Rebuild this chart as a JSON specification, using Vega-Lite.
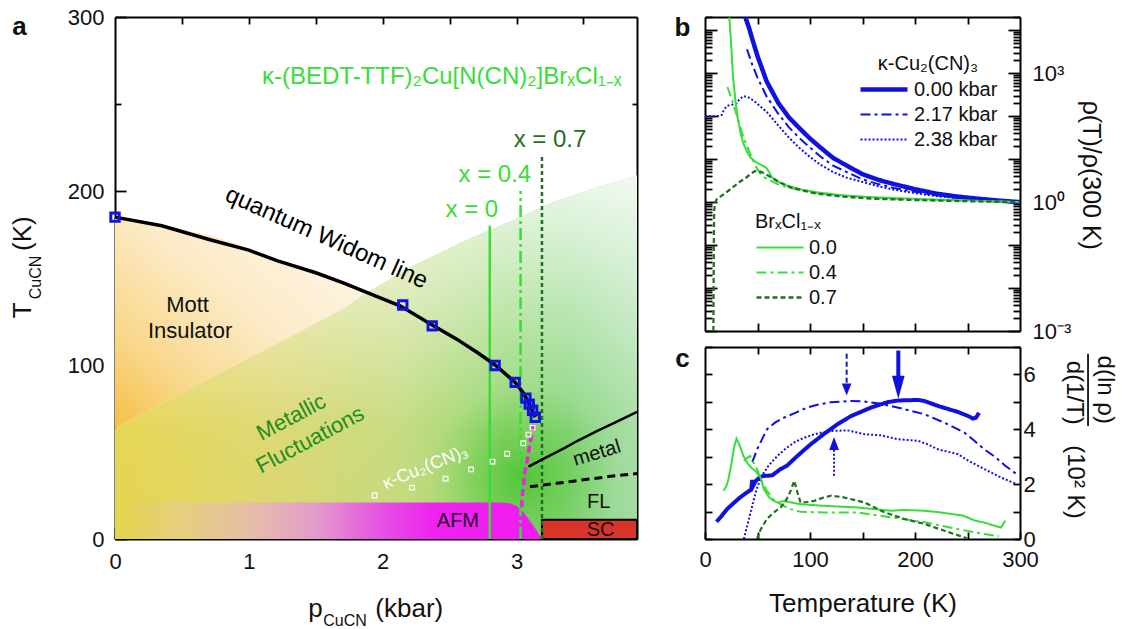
{
 "$schema": "https://vega.github.io/schema/vega-lite/v6.json",
 "padding": {"left": 10, "top": 6, "right": 6, "bottom": 0},
 "bounds": "flush",
 "spacing": 68,
 "background": "white",
 "config": {
  "font": "Liberation Sans",
  "view": {"stroke": null},
  "axis": {"zindex": 1, "domainColor": "#000", "domainWidth": 2, "tickColor": "#000", "tickWidth": 1.8, "labelFontSize": 22, "labelColor": "#111", "labelFont": "Liberation Sans", "labelFlush": false, "labelOverlap": false, "grid": false, "titleFont": "Liberation Sans", "titleFontWeight": "normal", "titleColor": "#111", "titleFontSize": 26},
  "legend": {"labelFont": "Liberation Sans", "titleFont": "Liberation Sans", "labelFontSize": 20, "titleFontSize": 20, "titleFontWeight": "normal", "labelColor": "#111", "titleColor": "#111", "padding": 0, "symbolType": "stroke", "symbolSize": 2209, "clipHeight": 25, "rowPadding": 0, "titlePadding": 3, "labelOffset": 4}
 },
 "datasets": {
  "L": [{"p":0,"T":64},{"p":0.5,"T":84},{"p":1,"T":104},{"p":1.5,"T":124},{"p":1.8,"T":138},{"p":2.2,"T":156},{"p":2.6,"T":171},{"p":3.0,"T":184},{"p":3.25,"T":193},{"p":3.6,"T":202},{"p":3.9,"T":209}],
  "orange": [{"p":0,"T":64,"T2":185},{"p":0.25,"T":74,"T2":182},{"p":0.5,"T":84,"T2":178},{"p":0.75,"T":94,"T2":174},{"p":1.0,"T":104,"T2":167},{"p":1.25,"T":114,"T2":159},{"p":1.5,"T":124,"T2":153},{"p":1.7,"T":132,"T2":147.5},{"p":1.88,"T":141.5,"T2":141.5}],
  "afm": [{"p":0,"T":21},{"p":2.88,"T":21},{"p":2.95,"T":20.5},{"p":3.0,"T":19},{"p":3.05,"T":15.5},{"p":3.1,"T":10.5},{"p":3.15,"T":5},{"p":3.19,"T":0}],
  "widom": [{"p":0,"T":185},{"p":0.35,"T":180},{"p":0.71,"T":172},{"p":1.0,"T":166},{"p":1.21,"T":160},{"p":1.5,"T":153},{"p":1.71,"T":147},{"p":2.0,"T":138},{"p":2.13,"T":134},{"p":2.37,"T":123},{"p":2.55,"T":115},{"p":2.71,"T":107},{"p":2.84,"T":100},{"p":2.99,"T":90},{"p":3.05,"T":84},{"p":3.08,"T":80},{"p":3.11,"T":75},{"p":3.14,"T":70}],
  "wpts": [{"p":0,"T":185},{"p":2.15,"T":134.5},{"p":2.37,"T":122.5},{"p":2.84,"T":99.7},{"p":2.99,"T":90},{"p":3.07,"T":81},{"p":3.095,"T":77.5},{"p":3.12,"T":74},{"p":3.14,"T":70}],
  "wsq": [{"p":1.94,"T":25},{"p":2.22,"T":29.5},{"p":2.47,"T":34.7},{"p":2.66,"T":40},{"p":2.82,"T":44.5},{"p":2.93,"T":49},{"p":3.05,"T":55},{"p":3.09,"T":60},{"p":3.12,"T":64}],
  "pink": [{"p":3.13,"T":66},{"p":3.10,"T":55},{"p":3.08,"T":45},{"p":3.06,"T":37.5},{"p":3.05,"T":29.5},{"p":3.04,"T":22},{"p":3.04,"T":18}],
  "metal": [{"p":3.09,"T":41.6},{"p":3.2,"T":46},{"p":3.35,"T":52},{"p":3.46,"T":56.6},{"p":3.6,"T":62},{"p":3.75,"T":67.5},{"p":3.9,"T":73}],
  "fl": [{"p":3.1,"T":30},{"p":3.3,"T":32},{"p":3.5,"T":34},{"p":3.7,"T":36},{"p":3.9,"T":37.6}],
  "bk": [
   {"T":38.5,"rho":20000,"s":"0.00 kbar"},{"T":42,"rho":11220,"s":"0.00 kbar"},{"T":45,"rho":6310,"s":"0.00 kbar"},{"T":50,"rho":2512,"s":"0.00 kbar"},{"T":58.7,"rho":646,"s":"0.00 kbar"},{"T":70,"rho":200,"s":"0.00 kbar"},{"T":80,"rho":93.3,"s":"0.00 kbar"},{"T":90,"rho":52.5,"s":"0.00 kbar"},{"T":100,"rho":30.2,"s":"0.00 kbar"},{"T":110,"rho":18.6,"s":"0.00 kbar"},{"T":122,"rho":10.7,"s":"0.00 kbar"},{"T":135,"rho":7.08,"s":"0.00 kbar"},{"T":150,"rho":4.47,"s":"0.00 kbar"},{"T":165,"rho":3.31,"s":"0.00 kbar"},{"T":180,"rho":2.63,"s":"0.00 kbar"},{"T":200,"rho":2.0,"s":"0.00 kbar"},{"T":220,"rho":1.58,"s":"0.00 kbar"},{"T":240,"rho":1.35,"s":"0.00 kbar"},{"T":260,"rho":1.2,"s":"0.00 kbar"},{"T":280,"rho":1.084,"s":"0.00 kbar"},{"T":300,"rho":1,"s":"0.00 kbar"},
   {"T":40,"rho":3631,"s":"2.17 kbar"},{"T":45,"rho":1585,"s":"2.17 kbar"},{"T":50,"rho":794,"s":"2.17 kbar"},{"T":58.7,"rho":288,"s":"2.17 kbar"},{"T":70,"rho":112,"s":"2.17 kbar"},{"T":80,"rho":55,"s":"2.17 kbar"},{"T":90,"rho":30.9,"s":"2.17 kbar"},{"T":100,"rho":18.6,"s":"2.17 kbar"},{"T":110,"rho":11.5,"s":"2.17 kbar"},{"T":122,"rho":7.08,"s":"2.17 kbar"},{"T":135,"rho":5.01,"s":"2.17 kbar"},{"T":150,"rho":3.39,"s":"2.17 kbar"},{"T":165,"rho":2.63,"s":"2.17 kbar"},{"T":180,"rho":2.14,"s":"2.17 kbar"},{"T":200,"rho":1.74,"s":"2.17 kbar"},{"T":220,"rho":1.45,"s":"2.17 kbar"},{"T":240,"rho":1.26,"s":"2.17 kbar"},{"T":260,"rho":1.15,"s":"2.17 kbar"},{"T":280,"rho":1.07,"s":"2.17 kbar"},{"T":300,"rho":1,"s":"2.17 kbar"},
   {"T":0,"rho":100,"s":"2.38 kbar"},{"T":12,"rho":100,"s":"2.38 kbar"},{"T":16,"rho":107,"s":"2.38 kbar"},{"T":18,"rho":141,"s":"2.38 kbar"},{"T":21,"rho":174,"s":"2.38 kbar"},{"T":26,"rho":186,"s":"2.38 kbar"},{"T":30,"rho":200,"s":"2.38 kbar"},{"T":33,"rho":251,"s":"2.38 kbar"},{"T":37,"rho":295,"s":"2.38 kbar"},{"T":42,"rho":269,"s":"2.38 kbar"},{"T":47,"rho":224,"s":"2.38 kbar"},{"T":53,"rho":166,"s":"2.38 kbar"},{"T":58.7,"rho":126,"s":"2.38 kbar"},{"T":70,"rho":60.3,"s":"2.38 kbar"},{"T":80,"rho":31.6,"s":"2.38 kbar"},{"T":90,"rho":18.2,"s":"2.38 kbar"},{"T":100,"rho":11.2,"s":"2.38 kbar"},{"T":110,"rho":7.41,"s":"2.38 kbar"},{"T":122,"rho":5.01,"s":"2.38 kbar"},{"T":135,"rho":3.72,"s":"2.38 kbar"},{"T":150,"rho":2.95,"s":"2.38 kbar"},{"T":165,"rho":2.34,"s":"2.38 kbar"},{"T":180,"rho":1.95,"s":"2.38 kbar"},{"T":200,"rho":1.62,"s":"2.38 kbar"},{"T":220,"rho":1.38,"s":"2.38 kbar"},{"T":240,"rho":1.23,"s":"2.38 kbar"},{"T":260,"rho":1.12,"s":"2.38 kbar"},{"T":280,"rho":1.05,"s":"2.38 kbar"},{"T":300,"rho":1,"s":"2.38 kbar"}
  ],
  "bbr": [
   {"T":23.2,"rho":20000,"s":"0.0"},{"T":25,"rho":4266,"s":"0.0"},{"T":26.7,"rho":832,"s":"0.0"},{"T":29,"rho":224,"s":"0.0"},{"T":31.5,"rho":81.3,"s":"0.0"},{"T":34,"rho":39.8,"s":"0.0"},{"T":36.5,"rho":23.4,"s":"0.0"},{"T":40,"rho":14.8,"s":"0.0"},{"T":43,"rho":11.2,"s":"0.0"},{"T":47,"rho":9.12,"s":"0.0"},{"T":50.7,"rho":7.94,"s":"0.0"},{"T":55,"rho":7.08,"s":"0.0"},{"T":58.7,"rho":6.17,"s":"0.0"},{"T":61,"rho":5.01,"s":"0.0"},{"T":63.5,"rho":3.8,"s":"0.0"},{"T":70,"rho":2.95,"s":"0.0"},{"T":77.7,"rho":2.45,"s":"0.0"},{"T":90,"rho":2.0,"s":"0.0"},{"T":106,"rho":1.7,"s":"0.0"},{"T":130,"rho":1.45,"s":"0.0"},{"T":154,"rho":1.32,"s":"0.0"},{"T":186,"rho":1.23,"s":"0.0"},{"T":220,"rho":1.15,"s":"0.0"},{"T":260,"rho":1.07,"s":"0.0"},{"T":300,"rho":1,"s":"0.0"},
   {"T":21.3,"rho":479,"s":"0.4"},{"T":24,"rho":316,"s":"0.4"},{"T":26.7,"rho":200,"s":"0.4"},{"T":30,"rho":112,"s":"0.4"},{"T":33,"rho":63.1,"s":"0.4"},{"T":36.5,"rho":33.1,"s":"0.4"},{"T":40,"rho":20,"s":"0.4"},{"T":44.4,"rho":11.2,"s":"0.4"},{"T":48,"rho":7.08,"s":"0.4"},{"T":52.4,"rho":4.68,"s":"0.4"},{"T":57,"rho":3.72,"s":"0.4"},{"T":61.9,"rho":3.24,"s":"0.4"},{"T":71.4,"rho":2.45,"s":"0.4"},{"T":90.5,"rho":1.86,"s":"0.4"},{"T":110,"rho":1.58,"s":"0.4"},{"T":140,"rho":1.35,"s":"0.4"},{"T":180,"rho":1.2,"s":"0.4"},{"T":220,"rho":1.12,"s":"0.4"},{"T":260,"rho":1.06,"s":"0.4"},{"T":300,"rho":1,"s":"0.4"},
   {"T":8,"rho":0.001,"s":"0.7"},{"T":8.2,"rho":0.01,"s":"0.7"},{"T":8.4,"rho":0.1,"s":"0.7"},{"T":8.7,"rho":0.6,"s":"0.7"},{"T":9.5,"rho":0.95,"s":"0.7"},{"T":11,"rho":1.15,"s":"0.7"},{"T":14.3,"rho":1.32,"s":"0.7"},{"T":20,"rho":1.66,"s":"0.7"},{"T":26.7,"rho":2.24,"s":"0.7"},{"T":33,"rho":2.95,"s":"0.7"},{"T":39.7,"rho":3.8,"s":"0.7"},{"T":44,"rho":4.68,"s":"0.7"},{"T":47.6,"rho":5.25,"s":"0.7"},{"T":51,"rho":5.25,"s":"0.7"},{"T":54,"rho":5.01,"s":"0.7"},{"T":60,"rho":4.17,"s":"0.7"},{"T":65,"rho":3.55,"s":"0.7"},{"T":72,"rho":2.82,"s":"0.7"},{"T":81,"rho":2.24,"s":"0.7"},{"T":95,"rho":1.82,"s":"0.7"},{"T":106,"rho":1.58,"s":"0.7"},{"T":130,"rho":1.35,"s":"0.7"},{"T":160,"rho":1.2,"s":"0.7"},{"T":200,"rho":1.12,"s":"0.7"},{"T":250,"rho":1.05,"s":"0.7"},{"T":300,"rho":1,"s":"0.7"}
  ],
  "cc": [
   {"T":11,"v":0.63,"s":"0.00 kbar"},{"T":16,"v":0.85,"s":"0.00 kbar"},{"T":21,"v":1.09,"s":"0.00 kbar"},{"T":27,"v":1.3,"s":"0.00 kbar"},{"T":33.5,"v":1.52,"s":"0.00 kbar"},{"T":40,"v":1.7,"s":"0.00 kbar"},{"T":44,"v":1.8,"s":"0.00 kbar"},{"T":45,"v":2.15,"s":"0.00 kbar"},{"T":46,"v":1.95,"s":"0.00 kbar"},{"T":48,"v":2.1,"s":"0.00 kbar"},{"T":52,"v":2.25,"s":"0.00 kbar"},{"T":56,"v":2.3,"s":"0.00 kbar"},{"T":64,"v":2.32,"s":"0.00 kbar"},{"T":72,"v":2.55,"s":"0.00 kbar"},{"T":78,"v":2.67,"s":"0.00 kbar"},{"T":88,"v":3.03,"s":"0.00 kbar"},{"T":100.5,"v":3.45,"s":"0.00 kbar"},{"T":113,"v":3.82,"s":"0.00 kbar"},{"T":126,"v":4.18,"s":"0.00 kbar"},{"T":139,"v":4.48,"s":"0.00 kbar"},{"T":158,"v":4.79,"s":"0.00 kbar"},{"T":174,"v":4.99,"s":"0.00 kbar"},{"T":184,"v":5.05,"s":"0.00 kbar"},{"T":203,"v":5.07,"s":"0.00 kbar"},{"T":209,"v":5.03,"s":"0.00 kbar"},{"T":222,"v":4.85,"s":"0.00 kbar"},{"T":241,"v":4.63,"s":"0.00 kbar"},{"T":252,"v":4.46,"s":"0.00 kbar"},{"T":255,"v":4.39,"s":"0.00 kbar"},{"T":258,"v":4.42,"s":"0.00 kbar"},{"T":261,"v":4.6,"s":"0.00 kbar"},
   {"T":45,"v":2.8,"s":"2.17 kbar"},{"T":50,"v":3.3,"s":"2.17 kbar"},{"T":59,"v":4.0,"s":"2.17 kbar"},{"T":67,"v":4.25,"s":"2.17 kbar"},{"T":75,"v":4.42,"s":"2.17 kbar"},{"T":86,"v":4.6,"s":"2.17 kbar"},{"T":97,"v":4.79,"s":"2.17 kbar"},{"T":108,"v":4.9,"s":"2.17 kbar"},{"T":120,"v":4.99,"s":"2.17 kbar"},{"T":139,"v":5.03,"s":"2.17 kbar"},{"T":150,"v":5.02,"s":"2.17 kbar"},{"T":164,"v":4.95,"s":"2.17 kbar"},{"T":177,"v":4.85,"s":"2.17 kbar"},{"T":190,"v":4.73,"s":"2.17 kbar"},{"T":209,"v":4.55,"s":"2.17 kbar"},{"T":228,"v":4.24,"s":"2.17 kbar"},{"T":247,"v":3.88,"s":"2.17 kbar"},{"T":256,"v":3.6,"s":"2.17 kbar"},{"T":266,"v":3.27,"s":"2.17 kbar"},{"T":276,"v":3.0,"s":"2.17 kbar"},{"T":286,"v":2.67,"s":"2.17 kbar"},{"T":297,"v":2.36,"s":"2.17 kbar"},
   {"T":37,"v":0,"s":"2.38 kbar"},{"T":41,"v":0.6,"s":"2.38 kbar"},{"T":45,"v":1.21,"s":"2.38 kbar"},{"T":49,"v":1.8,"s":"2.38 kbar"},{"T":54,"v":2.3,"s":"2.38 kbar"},{"T":61,"v":2.7,"s":"2.38 kbar"},{"T":69,"v":3.03,"s":"2.38 kbar"},{"T":77,"v":3.3,"s":"2.38 kbar"},{"T":85,"v":3.52,"s":"2.38 kbar"},{"T":93,"v":3.67,"s":"2.38 kbar"},{"T":101,"v":3.78,"s":"2.38 kbar"},{"T":110,"v":3.87,"s":"2.38 kbar"},{"T":120,"v":3.94,"s":"2.38 kbar"},{"T":136,"v":3.96,"s":"2.38 kbar"},{"T":152,"v":3.82,"s":"2.38 kbar"},{"T":168,"v":3.78,"s":"2.38 kbar"},{"T":183,"v":3.64,"s":"2.38 kbar"},{"T":203,"v":3.58,"s":"2.38 kbar"},{"T":212,"v":3.45,"s":"2.38 kbar"},{"T":222,"v":3.27,"s":"2.38 kbar"},{"T":241,"v":3.09,"s":"2.38 kbar"},{"T":251,"v":2.85,"s":"2.38 kbar"},{"T":266,"v":2.55,"s":"2.38 kbar"},{"T":282,"v":2.24,"s":"2.38 kbar"},{"T":297,"v":2.0,"s":"2.38 kbar"},
   {"T":17.5,"v":1.76,"s":"0.0"},{"T":20,"v":1.9,"s":"0.0"},{"T":22,"v":2.12,"s":"0.0"},{"T":25,"v":2.7,"s":"0.0"},{"T":28,"v":3.4,"s":"0.0"},{"T":30,"v":3.66,"s":"0.0"},{"T":32,"v":3.5,"s":"0.0"},{"T":34,"v":3.3,"s":"0.0"},{"T":37,"v":3.0,"s":"0.0"},{"T":40,"v":2.79,"s":"0.0"},{"T":44,"v":2.6,"s":"0.0"},{"T":48,"v":2.48,"s":"0.0"},{"T":53,"v":2.24,"s":"0.0"},{"T":56,"v":1.82,"s":"0.0"},{"T":61,"v":1.52,"s":"0.0"},{"T":65,"v":1.4,"s":"0.0"},{"T":69,"v":1.33,"s":"0.0"},{"T":74,"v":1.38,"s":"0.0"},{"T":78,"v":1.36,"s":"0.0"},{"T":91,"v":1.27,"s":"0.0"},{"T":113,"v":1.21,"s":"0.0"},{"T":145,"v":1.15,"s":"0.0"},{"T":177,"v":1.03,"s":"0.0"},{"T":190,"v":1.06,"s":"0.0"},{"T":209,"v":1.03,"s":"0.0"},{"T":222,"v":0.98,"s":"0.0"},{"T":235,"v":0.91,"s":"0.0"},{"T":246,"v":0.85,"s":"0.0"},{"T":257,"v":0.67,"s":"0.0"},{"T":266,"v":0.6,"s":"0.0"},{"T":276,"v":0.48,"s":"0.0"},{"T":282,"v":0.42,"s":"0.0"},{"T":286,"v":0.67,"s":"0.0"},
   {"T":37,"v":2.85,"s":"0.4"},{"T":40,"v":2.95,"s":"0.4"},{"T":43,"v":3.03,"s":"0.4"},{"T":46,"v":2.8,"s":"0.4"},{"T":49.5,"v":2.55,"s":"0.4"},{"T":54,"v":2.1,"s":"0.4"},{"T":59,"v":1.76,"s":"0.4"},{"T":65,"v":1.45,"s":"0.4"},{"T":72,"v":1.27,"s":"0.4"},{"T":80,"v":1.1,"s":"0.4"},{"T":91,"v":0.99,"s":"0.4"},{"T":113,"v":0.97,"s":"0.4"},{"T":145,"v":0.97,"s":"0.4"},{"T":177,"v":0.79,"s":"0.4"},{"T":209,"v":0.61,"s":"0.4"},{"T":241,"v":0.36,"s":"0.4"},{"T":266,"v":0.18,"s":"0.4"},{"T":280,"v":0.1,"s":"0.4"},
   {"T":49.5,"v":0,"s":"0.7"},{"T":53,"v":0.35,"s":"0.7"},{"T":59,"v":0.73,"s":"0.7"},{"T":65,"v":0.95,"s":"0.7"},{"T":72,"v":1.15,"s":"0.7"},{"T":77,"v":1.4,"s":"0.7"},{"T":81,"v":1.7,"s":"0.7"},{"T":85,"v":2.12,"s":"0.7"},{"T":88,"v":1.7,"s":"0.7"},{"T":91,"v":1.33,"s":"0.7"},{"T":97,"v":1.35,"s":"0.7"},{"T":104,"v":1.39,"s":"0.7"},{"T":112,"v":1.5,"s":"0.7"},{"T":120,"v":1.58,"s":"0.7"},{"T":132,"v":1.52,"s":"0.7"},{"T":152,"v":1.33,"s":"0.7"},{"T":171,"v":0.97,"s":"0.7"},{"T":190,"v":0.73,"s":"0.7"},{"T":209,"v":0.55,"s":"0.7"},{"T":228,"v":0.3,"s":"0.7"},{"T":247,"v":0.06,"s":"0.7"},{"T":250,"v":0,"s":"0.7"}
  ]
 },
 "hconcat": [
  {
   "width": 522, "height": 522,
   "layer": [
    {"layer": [
     {"data": {"name": "L"},
      "mark": {"type": "area", "color": {"gradient": "linear", "x1": 0, "y1": 0, "x2": 1, "y2": 0, "stops": [{"offset": 0, "color": "#e5d44c"}, {"offset": 0.3, "color": "#dcd66e"}, {"offset": 0.55, "color": "#c3da7c"}, {"offset": 0.75, "color": "#8fd46c"}, {"offset": 0.87, "color": "#86d47c"}, {"offset": 1, "color": "#a4dca2"}]}},
      "encoding": {
       "x": {"field": "p", "type": "quantitative", "scale": {"domain": [0, 3.9], "nice": false}, "title": null,
             "axis": {"orient": "bottom", "values": [0, 0.5, 1, 1.5, 2, 2.5, 3, 3.5], "format": "d", "tickSize": {"condition": {"test": "datum.value % 1 === 0", "value": -11}, "value": -6}, "labelExpr": "datum.value % 1 === 0 ? datum.label : ''", "labelPadding": 23}},
       "y": {"field": "T", "type": "quantitative", "scale": {"domain": [0, 300], "nice": false}, "title": null,
             "axis": {"orient": "left", "values": [0, 50, 100, 150, 200, 250, 300], "tickSize": {"condition": {"test": "datum.value % 100 === 0", "value": -11}, "value": -6}, "labelExpr": "datum.value % 100 === 0 ? datum.label : ''", "labelPadding": 22}},
       "y2": {"datum": 0}}},
     {"data": {"name": "L"},
      "mark": {"type": "area", "color": {"gradient": "linear", "x1": 0, "y1": 1, "x2": 0, "y2": 0, "stops": [{"offset": 0, "color": "rgba(255,255,255,0)"}, {"offset": 0.3, "color": "rgba(255,255,255,0.05)"}, {"offset": 0.65, "color": "rgba(255,255,255,0.45)"}, {"offset": 1, "color": "rgba(255,255,255,0.85)"}]}},
      "encoding": {"x": {"field": "p", "type": "quantitative", "title": null}, "y": {"field": "T", "type": "quantitative", "title": null}, "y2": {"datum": 0}}},
     {"data": {"name": "orange"},
      "mark": {"type": "area", "color": {"gradient": "linear", "x1": 0, "y1": 1, "x2": 1, "y2": 0, "stops": [{"offset": 0, "color": "#f5bf45"}, {"offset": 0.25, "color": "#f9d98f"}, {"offset": 0.55, "color": "#fcebc8"}, {"offset": 1, "color": "#fef8ef"}]}},
      "encoding": {"x": {"field": "p", "type": "quantitative", "title": null}, "y": {"field": "T", "type": "quantitative", "title": null}, "y2": {"field": "T2"}}},
     {"data": {"values": [{"p": 2.35, "p2": 3.75, "T": -15, "T2": 85}]},
      "mark": {"type": "rect", "clip": true, "color": {"gradient": "radial", "x1": 0.5, "y1": 0.5, "r1": 0, "x2": 0.5, "y2": 0.5, "r2": 0.5, "stops": [{"offset": 0, "color": "rgba(70,195,45,0.85)"}, {"offset": 0.5, "color": "rgba(90,200,60,0.45)"}, {"offset": 1, "color": "rgba(120,210,90,0)"}]}},
      "encoding": {"x": {"field": "p", "type": "quantitative", "title": null}, "x2": {"field": "p2"}, "y": {"field": "T", "type": "quantitative", "title": null}, "y2": {"field": "T2"}}},
     {"data": {"name": "afm"},
      "mark": {"type": "area", "color": {"gradient": "linear", "x1": 0, "y1": 0, "x2": 1, "y2": 0, "stops": [{"offset": 0, "color": "#e3d54a"}, {"offset": 0.15, "color": "#e5cf7c"}, {"offset": 0.31, "color": "#e6bfa6"}, {"offset": 0.47, "color": "#e39bcb"}, {"offset": 0.63, "color": "#e450e3"}, {"offset": 0.75, "color": "#ef22ef"}, {"offset": 1, "color": "#f01cf0"}]}},
      "encoding": {"x": {"field": "p", "type": "quantitative", "title": null}, "y": {"field": "T", "type": "quantitative", "title": null}, "y2": {"datum": 0}}},
     {"data": {"values": [{"p": 3.19, "p2": 3.9, "T": 0, "T2": 11}]},
      "mark": {"type": "rect", "fill": "#d8342a", "stroke": "#000", "strokeWidth": 2},
      "encoding": {"x": {"field": "p", "type": "quantitative", "title": null}, "x2": {"field": "p2"}, "y": {"field": "T", "type": "quantitative", "title": null}, "y2": {"field": "T2"}}},
     {"data": {"values": [{"p": 2.8, "T": 0, "T2": 180}]},
      "mark": {"type": "rule", "color": "#39dd39", "strokeWidth": 2.5},
      "encoding": {"x": {"field": "p", "type": "quantitative", "title": null}, "y": {"field": "T", "type": "quantitative", "title": null}, "y2": {"field": "T2"}}},
     {"data": {"values": [{"p": 3.03, "T": 0, "T2": 200}]},
      "mark": {"type": "rule", "color": "#39dd39", "strokeWidth": 2.5, "strokeDash": [12, 4, 3, 4]},
      "encoding": {"x": {"field": "p", "type": "quantitative", "title": null}, "y": {"field": "T", "type": "quantitative", "title": null}, "y2": {"field": "T2"}}},
     {"data": {"values": [{"p": 3.19, "T": 0, "T2": 220}]},
      "mark": {"type": "rule", "color": "#236f23", "strokeWidth": 2.5, "strokeDash": [4, 3]},
      "encoding": {"x": {"field": "p", "type": "quantitative", "title": null}, "y": {"field": "T", "type": "quantitative", "title": null}, "y2": {"field": "T2"}}},
     {"data": {"name": "pink"},
      "mark": {"type": "line", "color": "#ee22dd", "strokeWidth": 3.5, "strokeDash": [7, 4]},
      "encoding": {"x": {"field": "p", "type": "quantitative", "title": null}, "y": {"field": "T", "type": "quantitative", "title": null}, "order": {"field": "T", "sort": "descending"}}},
     {"data": {"name": "metal"},
      "mark": {"type": "line", "color": "#000", "strokeWidth": 2.5},
      "encoding": {"x": {"field": "p", "type": "quantitative", "title": null}, "y": {"field": "T", "type": "quantitative", "title": null}}},
     {"data": {"name": "fl"},
      "mark": {"type": "line", "color": "#000", "strokeWidth": 3, "strokeDash": [8, 5]},
      "encoding": {"x": {"field": "p", "type": "quantitative", "title": null}, "y": {"field": "T", "type": "quantitative", "title": null}}},
     {"data": {"name": "widom"},
      "mark": {"type": "line", "color": "#000", "strokeWidth": 3.5},
      "encoding": {"x": {"field": "p", "type": "quantitative", "title": null}, "y": {"field": "T", "type": "quantitative", "title": null}}},
     {"data": {"name": "wpts"},
      "mark": {"type": "point", "shape": "square", "filled": false, "color": "#1212e0", "strokeWidth": 3, "size": 70, "opacity": 1},
      "encoding": {"x": {"field": "p", "type": "quantitative", "title": null}, "y": {"field": "T", "type": "quantitative", "title": null}}},
     {"data": {"name": "wsq"},
      "mark": {"type": "point", "shape": "square", "filled": false, "color": "#ffffff", "strokeWidth": 1.2, "size": 22, "opacity": 1},
      "encoding": {"x": {"field": "p", "type": "quantitative", "title": null}, "y": {"field": "T", "type": "quantitative", "title": null}}},
     {"data": {"values": [{"p": 2.442, "T": 261.7, "t": "κ-(BEDT-TTF)₂Cu[N(CN)₂]BrₓCl₁₋ₓ"}, {"p": 2.666, "T": 185, "t": "x = 0"}, {"p": 2.838, "T": 205.4, "t": "x = 0.4"}]},
      "mark": {"type": "text", "fontSize": 24, "color": "#39dd39", "baseline": "alphabetic"},
      "encoding": {"x": {"field": "p", "type": "quantitative", "title": null}, "y": {"field": "T", "type": "quantitative", "title": null}, "text": {"field": "t"}}},
     {"data": {"values": [{"p": 3.25, "T": 225.5, "t": "x = 0.7"}]},
      "mark": {"type": "text", "fontSize": 24, "color": "#236f23", "baseline": "alphabetic"},
      "encoding": {"x": {"field": "p", "type": "quantitative", "title": null}, "y": {"field": "T", "type": "quantitative", "title": null}, "text": {"field": "t"}}},
     {"data": {"values": [{"p": 1.58, "T": 173, "t": "quantum Widom line"}]},
      "mark": {"type": "text", "fontSize": 24, "color": "#000", "angle": 24},
      "encoding": {"x": {"field": "p", "type": "quantitative", "title": null}, "y": {"field": "T", "type": "quantitative", "title": null}, "text": {"field": "t"}}},
     {"data": {"values": [{"p": 0.542, "T": 134.3, "t": "Mott"}, {"p": 0.561, "T": 119.3, "t": "Insulator"}]},
      "mark": {"type": "text", "fontSize": 22, "color": "#111"},
      "encoding": {"x": {"field": "p", "type": "quantitative", "title": null}, "y": {"field": "T", "type": "quantitative", "title": null}, "text": {"field": "t"}}},
     {"data": {"values": [{"p": 1.316, "T": 70, "t": "Metallic"}, {"p": 1.458, "T": 57, "t": "Fluctuations"}]},
      "mark": {"type": "text", "fontSize": 22, "color": "#1e8c1e", "angle": 332},
      "encoding": {"x": {"field": "p", "type": "quantitative", "title": null}, "y": {"field": "T", "type": "quantitative", "title": null}, "text": {"field": "t"}}},
     {"data": {"values": [{"p": 2.319, "T": 41, "t": "κ-Cu₂(CN)₃"}]},
      "mark": {"type": "text", "fontSize": 18, "color": "#ffffff", "angle": 338},
      "encoding": {"x": {"field": "p", "type": "quantitative", "title": null}, "y": {"field": "T", "type": "quantitative", "title": null}, "text": {"field": "t"}}},
     {"data": {"values": [{"p": 3.6, "T": 49.3, "t": "metal"}]},
      "mark": {"type": "text", "fontSize": 20, "color": "#111", "angle": 343},
      "encoding": {"x": {"field": "p", "type": "quantitative", "title": null}, "y": {"field": "T", "type": "quantitative", "title": null}, "text": {"field": "t"}}},
     {"data": {"values": [{"p": 3.613, "T": 21, "t": "FL"}, {"p": 3.628, "T": 5.2, "t": "SC"}]},
      "mark": {"type": "text", "fontSize": 20, "color": "#111"},
      "encoding": {"x": {"field": "p", "type": "quantitative", "title": null}, "y": {"field": "T", "type": "quantitative", "title": null}, "text": {"field": "t"}}},
     {"data": {"values": [{"p": 2.562, "T": 10.4, "t": "AFM"}]},
      "mark": {"type": "text", "fontSize": 20, "color": "#2a0a2a"},
      "encoding": {"x": {"field": "p", "type": "quantitative", "title": null}, "y": {"field": "T", "type": "quantitative", "title": null}, "text": {"field": "t"}}},
     {"data": {"values": [{"p": -0.714, "T": 294, "t": "a"}]},
      "mark": {"type": "text", "fontSize": 26, "fontWeight": "bold", "color": "#111"},
      "encoding": {"x": {"field": "p", "type": "quantitative", "title": null}, "y": {"field": "T", "type": "quantitative", "title": null}, "text": {"field": "t"}}},
     {"data": {"values": [{"p": -0.625, "T": 126.8, "t": "T"}, {"p": -0.625, "T": 165.5, "t": "(K)"}]},
      "mark": {"type": "text", "fontSize": 26, "color": "#111", "angle": 270, "align": "left", "baseline": "alphabetic"},
      "encoding": {"x": {"field": "p", "type": "quantitative", "title": null}, "y": {"field": "T", "type": "quantitative", "title": null}, "text": {"field": "t"}}},
     {"data": {"values": [{"p": -0.553, "T": 137.8, "t": "CuCN"}]},
      "mark": {"type": "text", "fontSize": 16, "color": "#111", "angle": 270, "align": "left", "baseline": "alphabetic"},
      "encoding": {"x": {"field": "p", "type": "quantitative", "title": null}, "y": {"field": "T", "type": "quantitative", "title": null}, "text": {"field": "t"}}},
     {"data": {"values": [{"p": 1.444, "T": -44.96, "t": "p"}, {"p": 1.945, "T": -44.96, "t": "(kbar)"}]},
      "mark": {"type": "text", "fontSize": 26, "color": "#111", "align": "left", "baseline": "alphabetic"},
      "encoding": {"x": {"field": "p", "type": "quantitative", "title": null}, "y": {"field": "T", "type": "quantitative", "title": null}, "text": {"field": "t"}}},
     {"data": {"values": [{"p": 1.556, "T": -50.1, "t": "CuCN"}]},
      "mark": {"type": "text", "fontSize": 16, "color": "#111", "align": "left", "baseline": "alphabetic"},
      "encoding": {"x": {"field": "p", "type": "quantitative", "title": null}, "y": {"field": "T", "type": "quantitative", "title": null}, "text": {"field": "t"}}}
    ]},
    {"data": {"values": [{"p": 0, "T": 0}]},
     "mark": {"type": "point", "opacity": 0},
     "encoding": {
      "x": {"field": "p", "type": "quantitative", "title": null, "axis": {"orient": "top", "values": [0.5, 1, 1.5, 2, 2.5, 3, 3.5], "tickSize": -7, "labels": false}},
      "y": {"field": "T", "type": "quantitative", "title": null, "axis": {"orient": "right", "values": [50, 100, 150, 200, 250], "tickSize": {"condition": {"test": "datum.value % 100 === 0", "value": -11}, "value": -5}, "labels": false}}}}
   ],
   "resolve": {"axis": {"x": "independent", "y": "independent"}}
  },
  {
   "vconcat": [
    {
     "width": 315, "height": 314,
     "layer": [
      {"data": {"name": "bk"},
       "mark": {"type": "line", "clip": true},
       "encoding": {
        "x": {"field": "T", "type": "quantitative", "scale": {"domain": [0, 300], "nice": false}, "title": null,
              "axis": {"orient": "bottom", "values": [50, 100, 150, 200, 250], "tickSize": -8, "labels": false}},
        "y": {"field": "rho", "type": "quantitative", "scale": {"type": "log", "domain": [0.001, 20400], "nice": false}, "title": null,
              "axis": {"orient": "left", "values": [0.001,0.002,0.003,0.004,0.005,0.006,0.007,0.008,0.009,0.01,0.02,0.03,0.04,0.05,0.06,0.07,0.08,0.09,0.1,0.2,0.3,0.4,0.5,0.6,0.7,0.8,0.9,1,2,3,4,5,6,7,8,9,10,20,30,40,50,60,70,80,90,100,200,300,400,500,600,700,800,900,1000,2000,3000,4000,5000,6000,7000,8000,9000,10000,20000], "tickSize": {"condition": {"test": "abs(log(datum.value)/LN10 - round(log(datum.value)/LN10)) < 0.001", "value": -12}, "value": -7}, "labels": false}},
        "color": {"field": "s", "type": "nominal", "scale": {"domain": ["0.00 kbar", "2.17 kbar", "2.38 kbar"], "range": ["#1010e0", "#1010e0", "#1010e0"]}, "legend": {"title": "κ-Cu₂(CN)₃", "orient": "none", "legendX": 153, "legendY": 37, "titleAnchor": "middle"}},
        "strokeDash": {"field": "s", "type": "nominal", "scale": {"domain": ["0.00 kbar", "2.17 kbar", "2.38 kbar"], "range": [[1, 0], [10, 4, 3, 4], [2, 2]]}, "legend": {"title": "κ-Cu₂(CN)₃", "orient": "none", "legendX": 153, "legendY": 37, "titleAnchor": "middle"}},
        "strokeWidth": {"field": "s", "type": "nominal", "scale": {"type": "ordinal", "domain": ["0.00 kbar", "2.17 kbar", "2.38 kbar"], "range": [4.5, 2, 2]}, "legend": {"title": "κ-Cu₂(CN)₃", "orient": "none", "legendX": 153, "legendY": 37, "titleAnchor": "middle"}}}},
      {"data": {"name": "bbr"},
       "mark": {"type": "line", "clip": true},
       "encoding": {
        "x": {"field": "T", "type": "quantitative", "title": null, "axis": null},
        "y": {"field": "rho", "type": "quantitative", "title": null, "axis": null},
        "color": {"field": "s", "type": "nominal", "scale": {"domain": ["0.0", "0.4", "0.7"], "range": ["#39dd39", "#39dd39", "#236f23"]}, "legend": {"title": "BrₓCl₁₋ₓ", "orient": "none", "legendX": 50, "legendY": 195}},
        "strokeDash": {"field": "s", "type": "nominal", "scale": {"domain": ["0.0", "0.4", "0.7"], "range": [[1, 0], [10, 4, 3, 4], [5, 3]]}, "legend": {"title": "BrₓCl₁₋ₓ", "orient": "none", "legendX": 50, "legendY": 195}},
        "strokeWidth": {"field": "s", "type": "nominal", "scale": {"type": "ordinal", "domain": ["0.0", "0.4", "0.7"], "range": [2, 2, 2.3]}, "legend": {"title": "BrₓCl₁₋ₓ", "orient": "none", "legendX": 50, "legendY": 195}}}},
      {"data": {"values": [{"T": -21.4, "rho": 11500, "t": "b"}]},
       "mark": {"type": "text", "fontSize": 26, "fontWeight": "bold", "color": "#111"},
       "encoding": {"x": {"field": "T", "type": "quantitative", "title": null, "axis": null}, "y": {"field": "rho", "type": "quantitative", "title": null, "axis": null}, "text": {"field": "t"}}},
      {"data": {"values": [{"T": 367.6, "rho": 4.22, "t": "ρ(T)/ρ(300 K)"}]},
       "mark": {"type": "text", "fontSize": 25, "color": "#111", "angle": 90},
       "encoding": {"x": {"field": "T", "type": "quantitative", "title": null, "axis": null}, "y": {"field": "rho", "type": "quantitative", "title": null, "axis": null}, "text": {"field": "t"}}},
      {"data": {"values": [{"T": 100, "rho": 1}]},
       "mark": {"type": "point", "opacity": 0},
       "encoding": {
        "x": {"field": "T", "type": "quantitative", "title": null, "axis": {"orient": "top", "values": [50, 100, 150, 200, 250], "tickSize": -7, "labels": false}},
        "y": {"field": "rho", "type": "quantitative", "title": null,
              "axis": {"orient": "right", "values": [0.001,0.002,0.003,0.004,0.005,0.006,0.007,0.008,0.009,0.01,0.02,0.03,0.04,0.05,0.06,0.07,0.08,0.09,0.1,0.2,0.3,0.4,0.5,0.6,0.7,0.8,0.9,1,2,3,4,5,6,7,8,9,10,20,30,40,50,60,70,80,90,100,200,300,400,500,600,700,800,900,1000,2000,3000,4000,5000,6000,7000,8000,9000,10000,20000], "tickSize": {"condition": {"test": "abs(log(datum.value)/LN10 - round(log(datum.value)/LN10)) < 0.001", "value": -12}, "value": -7}, "labelExpr": "datum.value == 1000 ? '10³' : (datum.value == 1 ? '10⁰' : (datum.value == 0.001 ? '10⁻³' : ''))", "labelPadding": 24}}}}
     ],
     "resolve": {"scale": {"color": "independent", "strokeDash": "independent", "strokeWidth": "independent"}, "axis": {"x": "independent", "y": "independent"}}
    },
    {
     "width": 315, "height": 192,
     "layer": [
      {"data": {"name": "cc"},
       "mark": {"type": "line", "clip": true},
       "encoding": {
        "x": {"field": "T", "type": "quantitative", "scale": {"domain": [0, 300], "nice": false}, "title": "Temperature (K)",
              "axis": {"orient": "bottom", "values": [0, 50, 100, 150, 200, 250, 300], "tickSize": -7, "labelExpr": "datum.value % 100 === 0 ? datum.label : ''", "labelPadding": 17, "titlePadding": 20}},
        "y": {"field": "v", "type": "quantitative", "scale": {"domain": [0, 7], "nice": false}, "title": null,
              "axis": {"orient": "left", "values": [0, 1, 2, 3, 4, 5, 6, 7], "tickSize": -7, "labels": false}},
        "color": {"field": "s", "type": "nominal", "scale": {"domain": ["0.00 kbar", "2.17 kbar", "2.38 kbar", "0.0", "0.4", "0.7"], "range": ["#1010e0", "#1010e0", "#1010e0", "#39dd39", "#39dd39", "#236f23"]}, "legend": null},
        "strokeDash": {"field": "s", "type": "nominal", "scale": {"domain": ["0.00 kbar", "2.17 kbar", "2.38 kbar", "0.0", "0.4", "0.7"], "range": [[1, 0], [10, 4, 3, 4], [2, 2], [1, 0], [10, 4, 3, 4], [5, 3]]}, "legend": null},
        "strokeWidth": {"field": "s", "type": "nominal", "scale": {"type": "ordinal", "domain": ["0.00 kbar", "2.17 kbar", "2.38 kbar", "0.0", "0.4", "0.7"], "range": [4, 2, 2, 2, 2, 2.2]}, "legend": null}}},
      {"data": {"values": [{"T": 134.9, "v": 6.75, "v2": 5.6}]},
       "mark": {"type": "rule", "color": "#1010e0", "strokeWidth": 2, "strokeDash": [5, 3]},
       "encoding": {"x": {"field": "T", "type": "quantitative", "title": null, "axis": null}, "y": {"field": "v", "type": "quantitative", "title": null, "axis": null}, "y2": {"field": "v2"}}},
      {"data": {"values": [{"T": 184.1, "v": 6.87, "v2": 5.9}]},
       "mark": {"type": "rule", "color": "#1010e0", "strokeWidth": 4},
       "encoding": {"x": {"field": "T", "type": "quantitative", "title": null, "axis": null}, "y": {"field": "v", "type": "quantitative", "title": null, "axis": null}, "y2": {"field": "v2"}}},
      {"data": {"values": [{"T": 122.9, "v": 2.31, "v2": 3.3}]},
       "mark": {"type": "rule", "color": "#1010e0", "strokeWidth": 2, "strokeDash": [2, 2]},
       "encoding": {"x": {"field": "T", "type": "quantitative", "title": null, "axis": null}, "y": {"field": "v", "type": "quantitative", "title": null, "axis": null}, "y2": {"field": "v2"}}},
      {"data": {"values": [{"T": 134.9, "v": 5.45}]},
       "mark": {"type": "point", "shape": "M-0.8,-1L0.8,-1L0,1Z", "size": 144, "filled": true, "color": "#1010e0", "opacity": 1},
       "encoding": {"x": {"field": "T", "type": "quantitative", "title": null, "axis": null}, "y": {"field": "v", "type": "quantitative", "title": null, "axis": null}}},
      {"data": {"values": [{"T": 184.1, "v": 5.53}]},
       "mark": {"type": "point", "shape": "M-0.55,-1L0.55,-1L0,1Z", "size": 529, "filled": true, "color": "#1010e0", "opacity": 1},
       "encoding": {"x": {"field": "T", "type": "quantitative", "title": null, "axis": null}, "y": {"field": "v", "type": "quantitative", "title": null, "axis": null}}},
      {"data": {"values": [{"T": 122.9, "v": 3.48}]},
       "mark": {"type": "point", "shape": "M-0.75,1L0.75,1L0,-1Z", "size": 169, "filled": true, "color": "#1010e0", "opacity": 1},
       "encoding": {"x": {"field": "T", "type": "quantitative", "title": null, "axis": null}, "y": {"field": "v", "type": "quantitative", "title": null, "axis": null}}},
      {"data": {"values": [{"T": -21.4, "v": 6.55, "t": "c"}]},
       "mark": {"type": "text", "fontSize": 26, "fontWeight": "bold", "color": "#111"},
       "encoding": {"x": {"field": "T", "type": "quantitative", "title": null, "axis": null}, "y": {"field": "v", "type": "quantitative", "title": null, "axis": null}, "text": {"field": "t"}}},
      {"data": {"values": [{"T": 381, "v": 5.44, "t": "d(ln ρ)"}, {"T": 351.4, "v": 5.33, "t": "d(1/T)"}, {"T": 352.4, "v": 2.08, "t": "(10² K)"}]},
       "mark": {"type": "text", "fontSize": 24, "color": "#111", "angle": 90},
       "encoding": {"x": {"field": "T", "type": "quantitative", "title": null, "axis": null}, "y": {"field": "v", "type": "quantitative", "title": null, "axis": null}, "text": {"field": "t"}}},
      {"data": {"values": [{"T": 364.8, "v": 6.75, "v2": 4.12}]},
       "mark": {"type": "rule", "color": "#111", "strokeWidth": 1.8},
       "encoding": {"x": {"field": "T", "type": "quantitative", "title": null, "axis": null}, "y": {"field": "v", "type": "quantitative", "title": null, "axis": null}, "y2": {"field": "v2"}}},
      {"data": {"values": [{"T": 100, "v": 1}]},
       "mark": {"type": "point", "opacity": 0},
       "encoding": {
        "x": {"field": "T", "type": "quantitative", "title": null, "axis": {"orient": "top", "values": [50, 100, 150, 200, 250], "tickSize": -7, "labels": false}},
        "y": {"field": "v", "type": "quantitative", "title": null, "axis": {"orient": "right", "values": [0, 1, 2, 3, 4, 5, 6, 7], "tickSize": -7, "labelExpr": "datum.value % 2 === 0 ? datum.label : ''", "labelPadding": 10}}}}
     ],
     "resolve": {"axis": {"x": "independent", "y": "independent"}}
    }
   ],
   "spacing": 16,
   "bounds": "flush"
  }
 ]
}
